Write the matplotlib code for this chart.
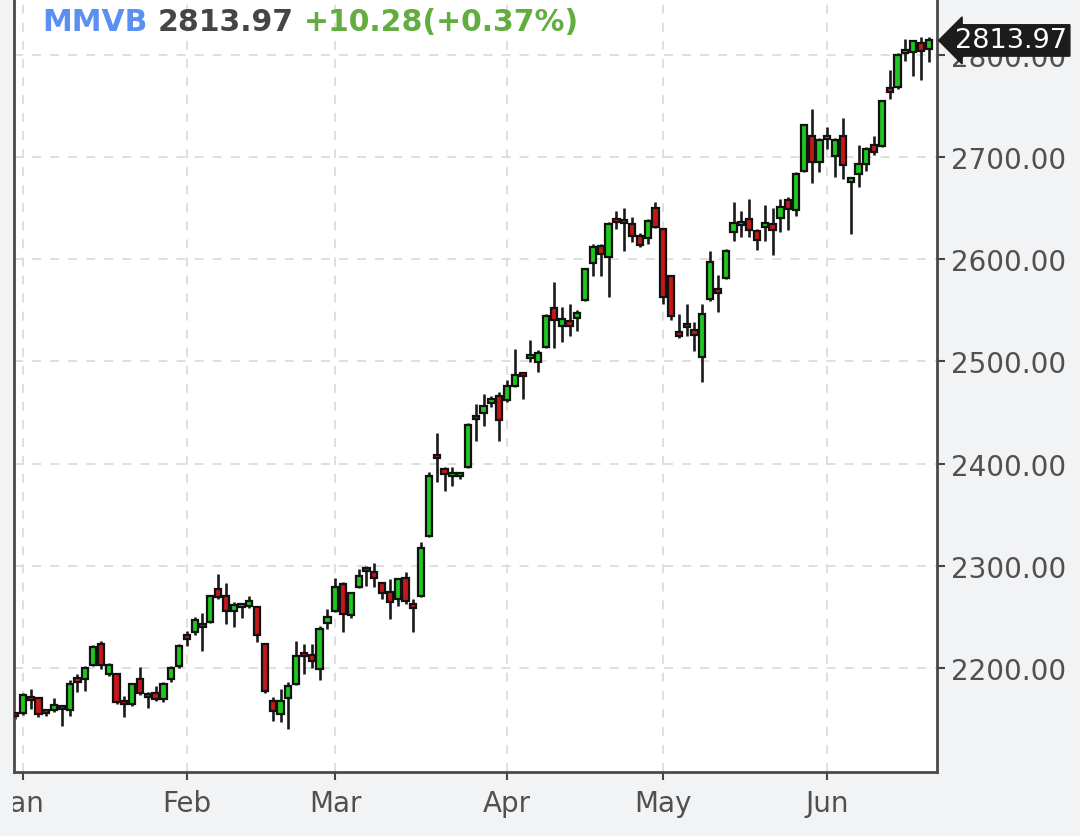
import matplotlib
matplotlib.use('Agg')
import matplotlib.pyplot as plt
import numpy as np

# daily OHLC (one row per trading day)
opens = [2154, 2156, 2172, 2171, 2157, 2159, 2161, 2159, 2190, 2189,
         2203, 2224, 2194, 2194, 2166, 2165, 2189, 2174, 2176, 2170,
         2189, 2202, 2230, 2235, 2241, 2245, 2277, 2271, 2256, 2260,
         2261, 2260, 2224, 2168, 2155, 2171, 2185, 2215, 2213, 2199,
         2244, 2256, 2282, 2252, 2279, 2297, 2294, 2283, 2275, 2268,
         2288, 2263, 2271, 2329, 2409, 2395, 2388, 2388, 2397, 2446,
         2450, 2459, 2466, 2462, 2476, 2488, 2503, 2499, 2514, 2552,
         2535, 2540, 2543, 2560, 2596, 2613, 2602, 2637, 2636, 2634,
         2623, 2621, 2650, 2630, 2584, 2529, 2535, 2531, 2504, 2561,
         2571, 2582, 2627, 2633, 2639, 2628, 2632, 2634, 2640, 2658,
         2648, 2686, 2721, 2695, 2718, 2701, 2721, 2676, 2683, 2693,
         2712, 2711, 2766, 2768, 2802, 2803, 2811, 2806]
highs = [2156, 2176, 2180, 2172, 2158, 2171, 2163, 2188, 2194, 2202,
         2223, 2227, 2205, 2195, 2173, 2186, 2201, 2177, 2183, 2187,
         2202, 2224, 2236, 2250, 2254, 2272, 2292, 2283, 2265, 2264,
         2271, 2261, 2225, 2172, 2180, 2187, 2227, 2224, 2224, 2241,
         2258, 2288, 2284, 2275, 2297, 2300, 2303, 2284, 2287, 2288,
         2294, 2268, 2323, 2392, 2430, 2397, 2397, 2392, 2440, 2458,
         2468, 2466, 2470, 2482, 2512, 2489, 2521, 2511, 2546, 2578,
         2553, 2556, 2550, 2591, 2615, 2615, 2636, 2647, 2650, 2641,
         2626, 2639, 2656, 2631, 2585, 2546, 2556, 2539, 2556, 2608,
         2585, 2610, 2656, 2647, 2659, 2630, 2653, 2650, 2659, 2661,
         2685, 2732, 2747, 2719, 2729, 2719, 2738, 2680, 2712, 2710,
         2721, 2756, 2785, 2802, 2815, 2814, 2817, 2817]
lows = [2150, 2154, 2160, 2152, 2153, 2157, 2143, 2153, 2177, 2178,
        2202, 2199, 2192, 2165, 2152, 2163, 2174, 2161, 2168, 2167,
        2187, 2200, 2222, 2232, 2217, 2244, 2268, 2243, 2240, 2249,
        2259, 2226, 2176, 2148, 2147, 2141, 2184, 2194, 2200, 2188,
        2238, 2255, 2235, 2249, 2278, 2280, 2279, 2268, 2248, 2261,
        2263, 2235, 2270, 2328, 2382, 2373, 2378, 2385, 2396, 2422,
        2437, 2455, 2422, 2460, 2475, 2463, 2499, 2490, 2513, 2513,
        2519, 2525, 2530, 2559, 2584, 2584, 2563, 2630, 2608, 2617,
        2612, 2615, 2631, 2556, 2541, 2523, 2525, 2510, 2480, 2559,
        2548, 2581, 2618, 2622, 2622, 2609, 2618, 2604, 2627, 2629,
        2642, 2685, 2675, 2685, 2708, 2680, 2678, 2625, 2671, 2686,
        2702, 2710, 2757, 2766, 2794, 2779, 2775, 2793]
closes = [2153, 2174, 2169, 2155, 2156, 2164, 2160, 2185, 2187, 2200,
          2221, 2203, 2203, 2167, 2165, 2185, 2176, 2172, 2170, 2185,
          2200, 2222, 2229, 2247, 2240, 2271, 2270, 2256, 2262, 2261,
          2266, 2232, 2178, 2158, 2168, 2183, 2212, 2212, 2207, 2238,
          2250, 2279, 2253, 2274, 2290, 2295, 2288, 2274, 2265, 2287,
          2266, 2259, 2318, 2388, 2406, 2390, 2391, 2389, 2438, 2444,
          2456, 2463, 2443, 2476, 2487, 2486, 2503.5, 2508, 2544, 2541,
          2542, 2535, 2547, 2590, 2612, 2605, 2634, 2636, 2635, 2623,
          2614, 2637, 2632, 2563, 2544, 2525, 2534, 2526, 2546, 2597,
          2567, 2608, 2635, 2634, 2629, 2619, 2633, 2629, 2651, 2649,
          2683, 2731, 2695, 2717, 2720, 2717, 2692, 2678, 2693, 2708,
          2705, 2755, 2764, 2800, 2803, 2813, 2803.69, 2813.97]

month_labels = ['Jan', 'Feb', 'Mar', 'Apr', 'May', 'Jun']
month_start = [1, 22, 41, 63, 83, 104]   # index of first trading day
price_levels = [2200, 2300, 2400, 2500, 2600, 2700, 2800]

ticker = 'MMVB'
last = closes[-1]
change = last - closes[-2]
pct = change / closes[-2] * 100

o = np.array(opens)
h = np.array(highs)
l = np.array(lows)
c = np.array(closes)
x = np.arange(len(c))

fig = plt.figure(figsize=(10.8, 8.37), dpi=100, facecolor='#f2f3f5')
ax = fig.add_axes([14/1080, 64/837, 923/1080, 773/837])
ax.set_facecolor('white')

up = c >= o
colors = np.where(up, '#1ec81e', '#c81717')
ax.vlines(x, l, h, color='#1a1a1a', lw=1.9, zorder=2)
body_lo = np.minimum(o, c)
body_h = np.maximum(np.abs(c - o), 3)
ax.bar(x, body_h, bottom=body_lo, width=0.8, color=colors,
       edgecolor='#111111', linewidth=1.6, zorder=3)

ax.set_xlim(-0.13, 118.05)
ax.set_ylim(2098.5, 2854.5)

ax.set_xticks(month_start)
ax.set_xticklabels(month_labels)
ax.set_yticks(price_levels)
ax.set_yticklabels(['%.2f' % v for v in price_levels])
ax.yaxis.tick_right()

ax.tick_params(axis='both', colors='#444444', labelcolor='#505050',
               labelsize=20, length=6, width=1.5)
ax.tick_params(axis='y', pad=4)
ax.tick_params(axis='x', pad=6)

ax.grid(True, color='#dcdcdc', linestyle=(0, (5, 5)), linewidth=1.3)
ax.set_axisbelow(True)

for side in ['left', 'right', 'bottom']:
    ax.spines[side].set_color('#4a4a4a')
    ax.spines[side].set_linewidth(2)
ax.spines['top'].set_visible(False)

# header text
t1 = ax.text(0.0303, 0.9715, ticker, transform=ax.transAxes, fontsize=21.5,
             fontweight='bold', color='#5b8ff2', va='center', ha='left')
t2 = ax.annotate('%.2f' % last, xy=(1, 0.5), xycoords=t1, xytext=(7.5, 0),
                 textcoords='offset points', fontsize=21.5, fontweight='bold',
                 color='#454545', va='center', ha='left')
ax.annotate('%+.2f(%+.2f%%)' % (change, pct), xy=(1, 0.5), xycoords=t2,
            xytext=(7.5, 0), textcoords='offset points', fontsize=21.5,
            fontweight='bold', color='#62ad3f', va='center', ha='left')

# last price tag on the price axis (covers the 2800 label, as in the source)
ax.annotate('%.2f' % last, xy=(1, last), xycoords=ax.get_yaxis_transform(),
            xytext=(13, 0), textcoords='offset points', fontsize=19.5,
            color='white', va='center', ha='left', annotation_clip=False,
            bbox=dict(boxstyle='larrow,pad=0.1', fc='#1c1c1c', ec='#1c1c1c'),
            zorder=10)

# the screenshot's left border hides the start of the first month label
fig.patches.append(plt.Rectangle((0, 0), 13/1080, 1, transform=fig.transFigure,
                                 fc='#f2f3f5', ec='none', zorder=20))

fig.savefig('out.png', dpi=100, facecolor=fig.get_facecolor())
